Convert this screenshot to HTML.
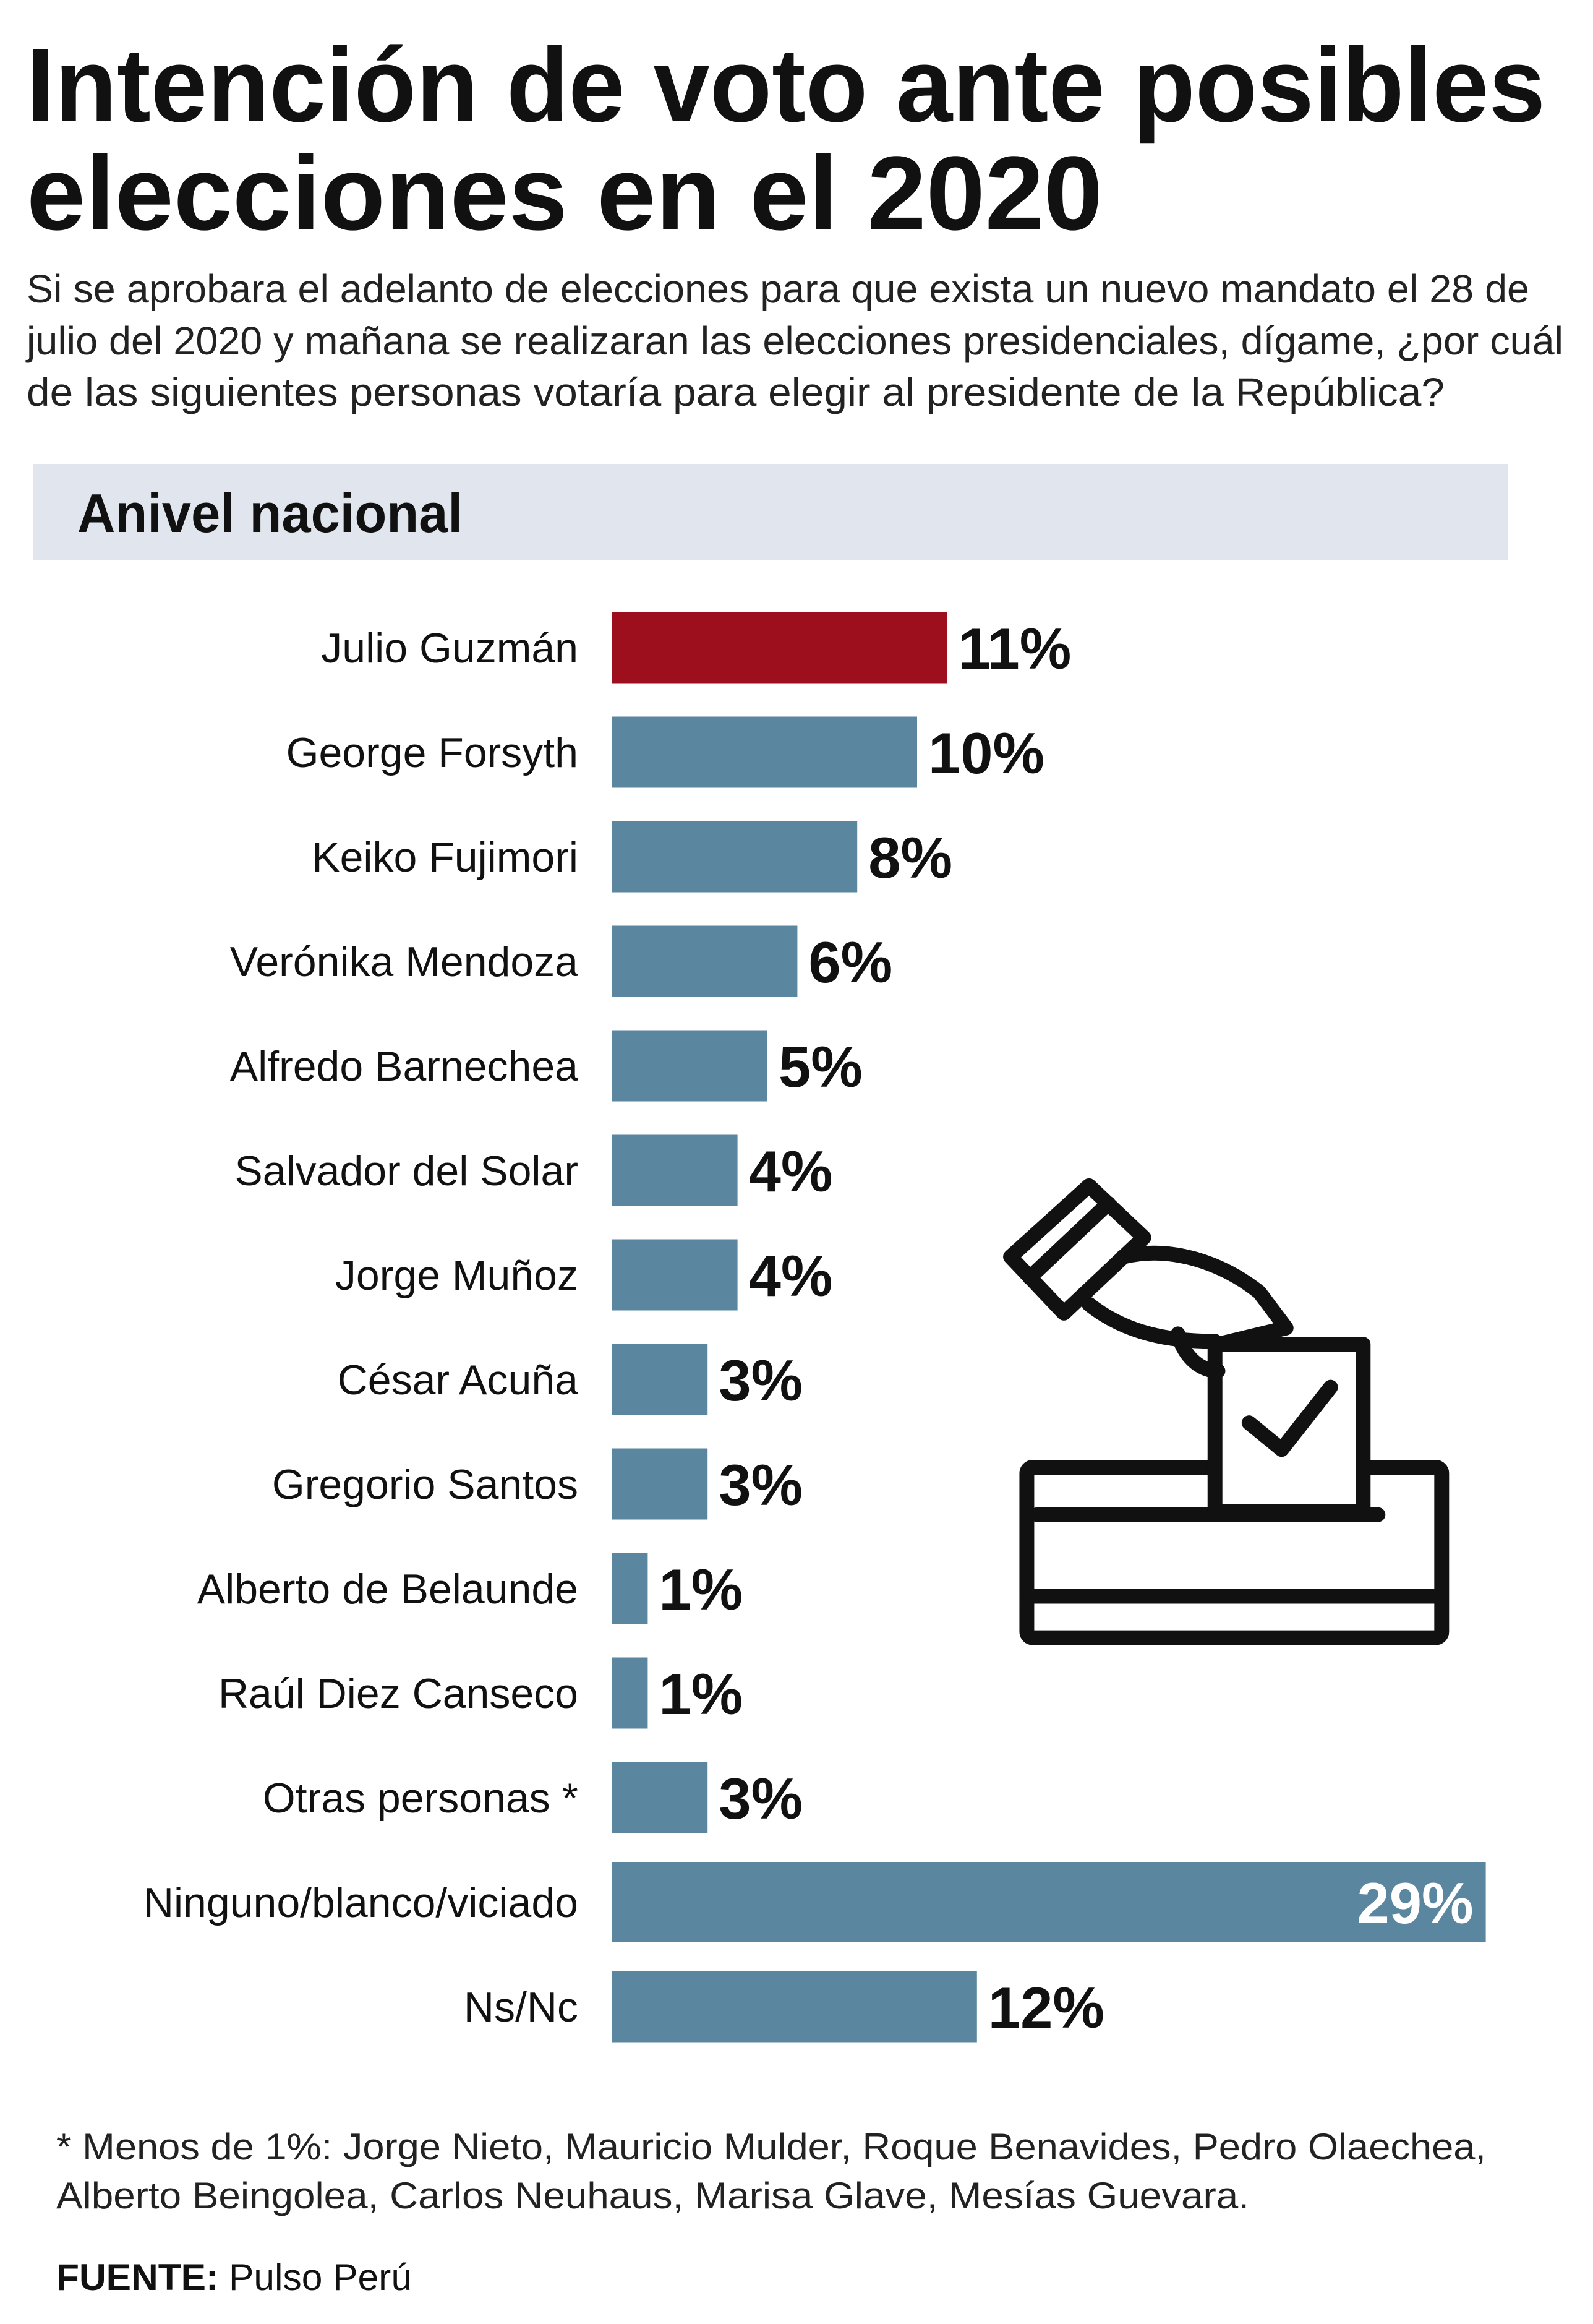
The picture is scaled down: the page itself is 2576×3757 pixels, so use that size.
<!DOCTYPE html>
<html><head><meta charset="utf-8"><style>
html,body{margin:0;padding:0;background:#fff}
svg{display:block}
text{font-family:"Liberation Sans",sans-serif}
</style></head><body>
<svg id="chart" width="2576" height="3757" viewBox="0 0 2576 3757" xmlns="http://www.w3.org/2000/svg">
<text x="43" y="196" font-size="170" font-weight="bold" fill="#111" textLength="2456" lengthAdjust="spacingAndGlyphs">Intención de voto ante posibles</text>
<text x="43" y="371" font-size="170" font-weight="bold" fill="#111" textLength="1740" lengthAdjust="spacingAndGlyphs">elecciones en el 2020</text>
<text x="43" y="489" font-size="64" fill="#222" textLength="2430" lengthAdjust="spacingAndGlyphs">Si se aprobara el adelanto de elecciones para que exista un nuevo mandato el 28 de</text>
<text x="43" y="573" font-size="64" fill="#222" textLength="2485" lengthAdjust="spacingAndGlyphs">julio del 2020 y mañana se realizaran las elecciones presidenciales, dígame, ¿por cuál</text>
<text x="43" y="656" font-size="64" fill="#222" textLength="2293" lengthAdjust="spacingAndGlyphs">de las siguientes personas votaría para elegir al presidente de la República?</text>
<rect x="53" y="750" width="2386" height="156" fill="#e1e6ee"/>
<text x="125" y="860" font-size="88" font-weight="bold" fill="#111" textLength="623" lengthAdjust="spacingAndGlyphs">Anivel nacional</text>
<g id="bars"></g>
<g transform="scale(2.396)" fill="none" stroke="#111" stroke-width="10" stroke-linejoin="round" stroke-linecap="round">
  <rect x="693" y="990" width="280" height="115" rx="4"/>
  <line x1="695" y1="1077" x2="972" y2="1077"/>
  <line x1="700" y1="1022" x2="930" y2="1022"/>
  <rect x="820" y="907" width="100" height="113" fill="#fff"/>
  <polyline points="843,960 865,978 898,936"/>
  <polygon points="682,848 735,800 772,835 718,886" fill="#fff"/>
  <line x1="695" y1="862" x2="748" y2="812"/>
  <path d="M758,848 C790,840 825,852 850,872 L868,896 L822,907"/>
  <path d="M735,880 C760,900 790,905 820,905"/>
  <path d="M795,900 C800,918 812,925 822,925"/>
</g>
<text x="91" y="3491" font-size="60" fill="#222" textLength="2312" lengthAdjust="spacingAndGlyphs">* Menos de 1%: Jorge Nieto, Mauricio Mulder, Roque Benavides, Pedro Olaechea,</text>
<text x="91" y="3570" font-size="60" fill="#222" textLength="1929" lengthAdjust="spacingAndGlyphs">Alberto Beingolea, Carlos Neuhaus, Marisa Glave, Mesías Guevara.</text>
<text x="91" y="3702" font-size="60" fill="#111" textLength="575" lengthAdjust="spacingAndGlyphs"><tspan font-weight="bold">FUENTE:</tspan> Pulso Perú</text>
</svg>
<script>
const categories = ["Julio Guzmán","George Forsyth","Keiko Fujimori","Verónika Mendoza","Alfredo Barnechea","Salvador del Solar","Jorge Muñoz","César Acuña","Gregorio Santos","Alberto de Belaunde","Raúl Diez Canseco","Otras personas *","Ninguno/blanco/viciado","Ns/Nc"];
const values = [11,10,8,6,5,4,4,3,3,1,1,3,29,12];
const valueLabels = ["11%","10%","8%","6%","5%","4%","4%","3%","3%","1%","1%","3%","29%","12%"];
const highlight = [true,false,false,false,false,false,false,false,false,false,false,false,false,false];

const NS = "http://www.w3.org/2000/svg";
const g = document.getElementById("bars");
const x0 = 990, pxPerPct = 48.4, minW = 9;
function xScale(v){ return x0 + minW + v * pxPerPct; }
function yCenter(i){ return 1047 + i * 169; }
const maxV = Math.max(...values);
categories.forEach((c, i) => {
  const cy = yCenter(i);
  const h = values[i] === maxV ? 130 : 115;
  const r = document.createElementNS(NS, "rect");
  r.setAttribute("x", x0);
  r.setAttribute("y", cy - h / 2);
  r.setAttribute("width", xScale(values[i]) - x0);
  r.setAttribute("height", h);
  r.setAttribute("fill", highlight[i] ? "#9e0f1e" : "#5a86a0");
  
  
  g.appendChild(r);

  const t = document.createElementNS(NS, "text");
  t.setAttribute("x", 935);
  t.setAttribute("y", cy + 24);
  t.setAttribute("text-anchor", "end");
  t.setAttribute("font-size", "68");
  t.setAttribute("fill", "#111");
  t.textContent = c;
  
  
  g.appendChild(t);

  const v = document.createElementNS(NS, "text");
  const inside = values[i] === maxV;
  v.setAttribute("x", inside ? xScale(values[i]) - 20 : xScale(values[i]) + 18);
  v.setAttribute("y", cy + 34);
  v.setAttribute("text-anchor", inside ? "end" : "start");
  v.setAttribute("font-size", "94");
  v.setAttribute("font-weight", "bold");
  v.setAttribute("fill", inside ? "#fff" : "#111");
  v.textContent = valueLabels[i];
  
  
  g.appendChild(v);
});
</script>
</body></html>
